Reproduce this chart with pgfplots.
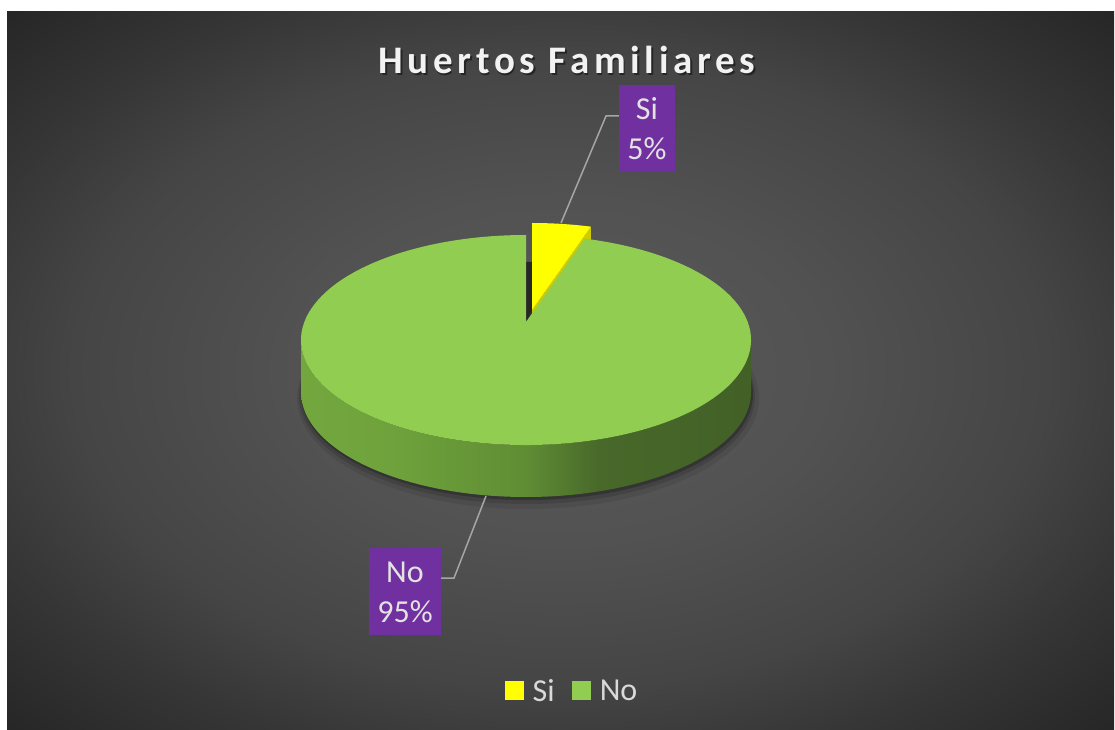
\documentclass[border=0pt]{standalone}
\usepackage{pgfplots}
\pgfplotsset{compat=1.18}
\usepackage{pgfplotstable}
\usepackage{fontspec}
\setmainfont{Carlito}
\newfontfamily\titlefont[LetterSpace=12]{Carlito}

\definecolor{bgA}{HTML}{5A5A5A}
\definecolor{bgB}{HTML}{525252}
\definecolor{bgC}{HTML}{454545}
\definecolor{bgD}{HTML}{363636}
\definecolor{bgE}{HTML}{252525}
\definecolor{gs0}{HTML}{7CB443}
\definecolor{gs1}{HTML}{6FA23C}
\definecolor{gs2}{HTML}{5F8D34}
\definecolor{gs3}{HTML}{48692A}
\definecolor{gs4}{HTML}{3A5423}
\definecolor{pieGreen}{HTML}{90CD50}
\definecolor{pieYellow}{HTML}{FFFF00}
\definecolor{yelSide}{HTML}{CCCC00}
\definecolor{lblPurple}{HTML}{7030A0}
\definecolor{lblText}{HTML}{E2E2E2}
\definecolor{legText}{HTML}{D9D9D9}
\definecolor{titleC}{HTML}{F2F2F2}
\definecolor{leader}{HTML}{A6A6A6}

\pgfdeclareradialshading{bgshade}{\pgfpoint{0bp}{0bp}}{color(0bp)=(bgA); color(12bp)=(bgB); color(22bp)=(bgC); color(28bp)=(bgD); color(36bp)=(bgE); color(50bp)=(bgE)}
\pgfdeclarehorizontalshading{greenside}{100bp}{color(0bp)=(gs0); color(35bp)=(gs1); color(50bp)=(gs2); color(58bp)=(gs3); color(100bp)=(gs4)}

\pgfplotstableread{
label value
Si 5
No 95
}\piedata

\begin{document}
\begin{tikzpicture}
\useasboundingbox (0,0) rectangle (1115pt,729pt);
% data -> angles (first slice starts at top, clockwise)
\pgfplotstablegetelem{0}{value}\of\piedata \pgfmathsetmacro\vSi{\pgfplotsretval}
\pgfplotstablegetelem{1}{value}\of\piedata \pgfmathsetmacro\vNo{\pgfplotsretval}
\pgfmathsetmacro\thB{90-360*\vSi/(\vSi+\vNo)}
\pgfmathsetmacro\den{1+0.1714*sin(\thB)}
\pgfmathsetmacro\Xb{221.7*cos(\thB)/\den}
\pgfmathsetmacro\Yb{101.9*sin(\thB)/\den}
\pgfmathsetmacro\sB{atan2((\Yb+18)/105,\Xb/225)}
\pgfmathsetmacro\rbx{526+225*cos(\sB)}
\pgfmathsetmacro\rby{389+105*sin(\sB)}
\begin{axis}[
  at={(0,0)}, anchor=south west,
  width=1115pt, height=729pt, scale only axis,
  xmin=0, xmax=1115, ymin=0, ymax=729,
  hide axis, clip=false,
  legend columns=2,
  legend image code/.code={\fill[#1, draw=none] (0pt,-9pt) rectangle (19pt,10pt);},
  legend style={at={(axis cs:572,38)}, anchor=center, draw=none, fill=none,
    font=\fontsize{32}{38}\selectfont, text=legText,
    /tikz/every odd column/.append style={column sep=7pt},
    /tikz/every even column/.append style={column sep=15pt}},
]
\addlegendimage{fill=pieYellow}
\addlegendentry{Si}
\addlegendimage{fill=pieGreen}
\addlegendentry{No}

\fill[white] (axis cs:0,0) rectangle (axis cs:1115,729);
\shade[shading=bgshade] (axis cs:7,0) rectangle (axis cs:1114,717);

% soft shadow under pie
\fill[black, opacity=0.08] (axis cs:528,331) ellipse [x radius=231pt, y radius=111pt];
\fill[black, opacity=0.12] (axis cs:527,333) ellipse [x radius=228pt, y radius=108pt];
\fill[black, opacity=0.22] (axis cs:527,335) ellipse [x radius=226pt, y radius=106pt];

% green side
\shade[shading=greenside] (axis cs:301,389) arc[start angle=180, end angle=360, x radius=225pt, y radius=105pt]
  -- (axis cs:751,337) arc[start angle=0, end angle=-180, x radius=225pt, y radius=105pt] -- cycle;

% gap shadow
\fill[black!85] (axis cs:526,467) -- (axis cs:532,467) -- (axis cs:532,419) -- (axis cs:526,407) -- cycle;

% yellow slice (exploded)
\fill[yelSide] (axis cs:532,419) -- (axis cs:{\rbx+6},{\rby+12}) -- (axis cs:{\rbx+6},{\rby-40}) -- (axis cs:532,367) -- cycle;
\fill[pieYellow] (axis cs:532,419) -- (axis cs:532,506) arc[start angle=90, end angle=\sB, x radius=225pt, y radius=105pt] -- cycle;

% green top
\fill[pieGreen] (axis cs:526,407) -- (axis cs:\rbx,\rby) arc[start angle=\sB, end angle=-270, x radius=225pt, y radius=105pt] -- cycle;

% leader lines
\draw[leader, line width=1.5pt] (axis cs:561,506) -- (axis cs:606,613) -- (axis cs:619,613);
\draw[leader, line width=1.5pt] (axis cs:486,233) -- (axis cs:454,151) -- (axis cs:441,151);

% data labels
\fill[lblPurple] (axis cs:619,557) rectangle (axis cs:675,644);
\node[anchor=base, text=lblText, font=\fontsize{32}{38}\selectfont, inner sep=0pt] at (axis cs:647,609) {Si};
\node[anchor=base, text=lblText, font=\fontsize{32}{38}\selectfont, inner sep=0pt] at (axis cs:647,569) {5\%};
\fill[lblPurple] (axis cs:369,94) rectangle (axis cs:441,181);
\node[anchor=base, text=lblText, font=\fontsize{32}{38}\selectfont, inner sep=0pt] at (axis cs:405,147) {No};
\node[anchor=base, text=lblText, font=\fontsize{32}{38}\selectfont, inner sep=0pt] at (axis cs:405,107) {95\%};

% title
\node[anchor=base, text=black, opacity=0.45, font=\titlefont\bfseries\fontsize{39}{45}\selectfont, inner sep=0pt] at (axis cs:568.5,653) {Huertos Familiares};
\node[anchor=base, text=titleC, font=\titlefont\bfseries\fontsize{39}{45}\selectfont, inner sep=0pt] at (axis cs:567,655) {Huertos Familiares};
\end{axis}
\end{tikzpicture}
\end{document}
